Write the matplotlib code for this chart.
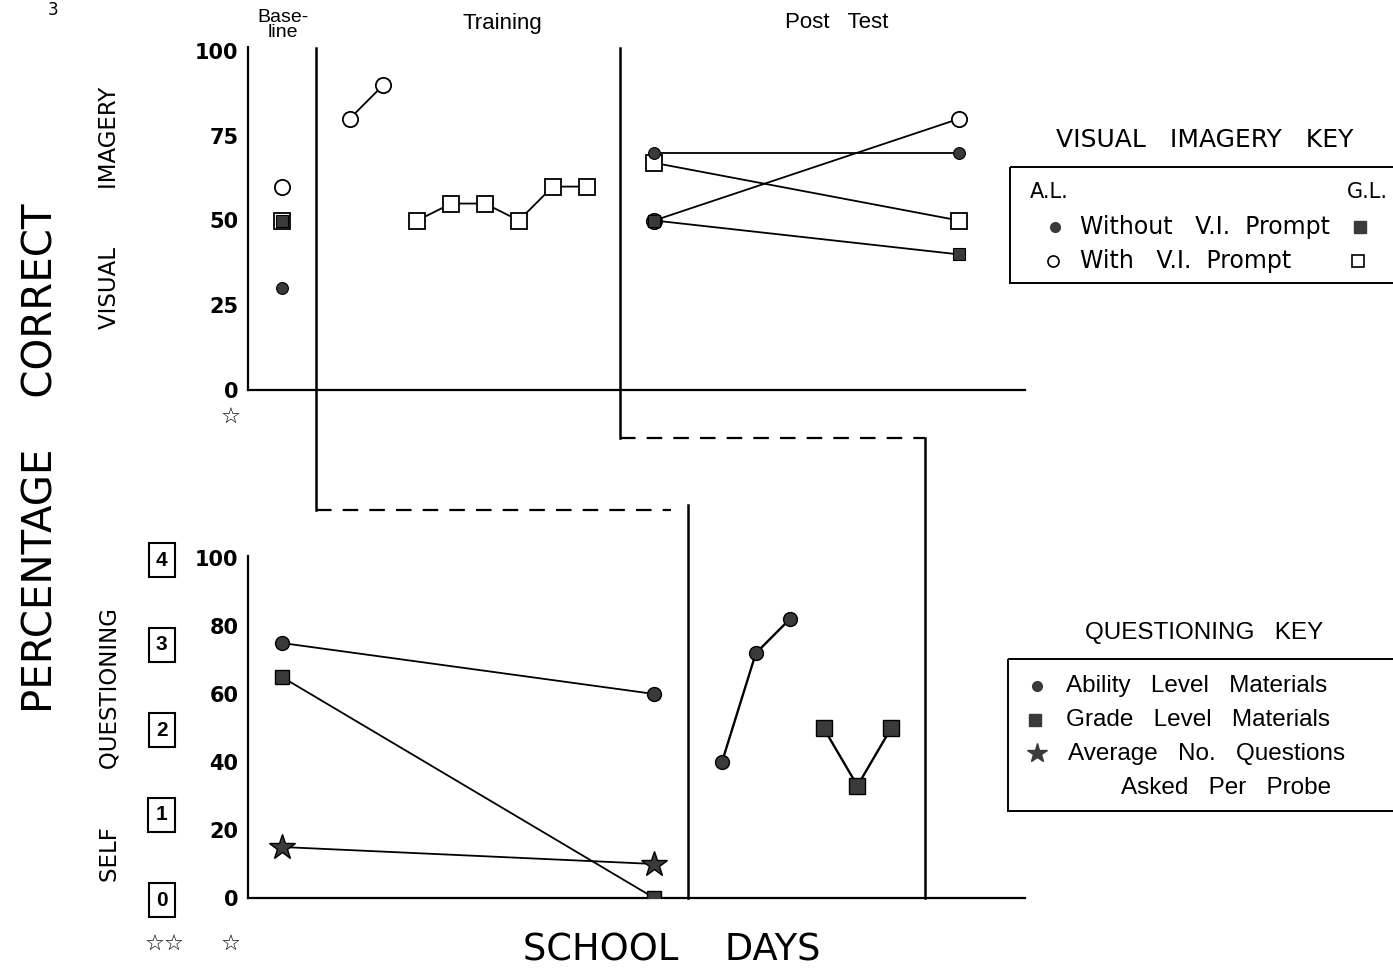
import numpy as np
import matplotlib
matplotlib.use("Agg")
import matplotlib.pyplot as plt
from matplotlib.patches import Rectangle

# ---- data: visual imagery (percent correct) ----
vi_base_days = [1]
vi_base_al_without = [30]
vi_base_al_with = [60]
vi_base_gl_without = [50]
vi_base_gl_with = [50]

vi_train_al_days = [3, 4]
vi_train_al_with = [80, 90]
vi_train_gl_days = [5, 6, 7, 8, 9, 10]
vi_train_gl_with = [50, 55, 55, 50, 60, 60]

vi_post_days = [12, 21]
vi_post_al_without = [70, 70]
vi_post_al_with = [50, 80]
vi_post_gl_without = [50, 40]
vi_post_gl_with = [67, 50]

# ---- data: self questioning ----
sq_base_days = [1, 12]
sq_base_al = [75, 60]
sq_base_gl = [65, 0]
sq_base_questions = [0.6, 0.4]   # average no. of questions per probe

sq_train_al_days = [14, 15, 16]
sq_train_al = [40, 72, 82]
sq_train_gl_days = [17, 18, 19]
sq_train_gl = [50, 33, 50]

vi_phase_lines = [2, 11]
sq_phase_lines = [13, 20]
pct_ticks = [0, 25, 50, 75, 100]
sq_ticks = [0, 20, 40, 60, 80, 100]
q_ticks = [0, 1, 2, 3, 4]

narrow = ['Liberation Sans Narrow', 'Liberation Sans', 'DejaVu Sans']
dark = '#3a3a3a'
W, H = 1393, 973

fig = plt.figure(figsize=(W / 100, H / 100), dpi=100)

ax_top = fig.add_axes([248 / W, 1 - 390 / H, 777 / W, 343 / H])
ax_bot = fig.add_axes([248 / W, 1 - 898 / H, 777 / W, 342 / H])
XMAX = 22.95
ax_top.set_xlim(0, XMAX)
ax_bot.set_xlim(0, XMAX)
ax_top.set_ylim(0, 100 * 343 / 339)
ax_bot.set_ylim(0, 100 * 342 / 340)

for ax in (ax_top, ax_bot):
    ax.patch.set_visible(False)
    for s in ('top', 'right'):
        ax.spines[s].set_visible(False)
    for s in ('left', 'bottom'):
        ax.spines[s].set_linewidth(1.6)
    ax.set_xticks([])
    ax.tick_params(axis='y', length=0, pad=7)

ax_top.set_yticks(pct_ticks)
ax_top.set_yticklabels([str(t) for t in pct_ticks], fontsize=15, fontweight='bold')
ax_bot.set_yticks(sq_ticks)
ax_bot.set_yticklabels([str(t) for t in sq_ticks], fontsize=15, fontweight='bold')

lw = 1.3
open_kw = dict(mfc='white', mec='black', mew=1.3, ms=11, color='black', lw=lw, zorder=3)
fill_kw = dict(mfc=dark, mec='black', mew=0.8, ms=8.5, color='black', lw=lw, zorder=4)

# top panel
ax_top.plot(vi_base_days, vi_base_al_with, 'o', **open_kw)
ax_top.plot(vi_base_days, vi_base_gl_with, 's', **open_kw)
ax_top.plot(vi_base_days, vi_base_al_without, 'o', **fill_kw)
ax_top.plot(vi_base_days, vi_base_gl_without, 's', **fill_kw)
ax_top.plot(vi_train_al_days, vi_train_al_with, '-o', **open_kw)
ax_top.plot(vi_train_gl_days, vi_train_gl_with, '-s', **open_kw)
ax_top.plot(vi_post_days, vi_post_al_with, '-o', **open_kw)
ax_top.plot(vi_post_days, vi_post_gl_with, '-s', **open_kw)
ax_top.plot(vi_post_days, vi_post_al_without, '-o', **fill_kw)
ax_top.plot(vi_post_days, vi_post_gl_without, '-s', **fill_kw)

# bottom panel
ax_bot.plot(sq_base_days, sq_base_al, '-o', color='black', lw=lw, mfc=dark, mec='black', ms=10, zorder=4)
ax_bot.plot(sq_base_days, sq_base_gl, '-s', color='black', lw=lw, mfc=dark, mec='black', ms=10, zorder=4)
ax_bot.plot(sq_train_al_days, sq_train_al, '-o', color='black', lw=1.7, mfc=dark, mec='black', ms=10, zorder=4)
ax_bot.plot(sq_train_gl_days, sq_train_gl, '-s', color='black', lw=1.7, mfc=dark, mec='black', ms=11, zorder=4)

ax_q = ax_bot.twinx()
ax_q.set_ylim(0, 4 * 342 / 340)
ax_q.plot(sq_base_days, sq_base_questions, '-*', color='black', lw=lw, mfc=dark, mec='black', ms=19, zorder=4)
for s in ax_q.spines.values():
    s.set_visible(False)
ax_q.yaxis.set_ticks_position('left')
ax_q.set_yticks(q_ticks)
ax_q.set_yticklabels([str(t) for t in q_ticks], fontsize=15, fontweight='bold', family=narrow)
ax_q.tick_params(axis='y', length=0, pad=58)
for lbl in ax_q.get_yticklabels():
    lbl.set_bbox(dict(boxstyle='square,pad=0.35', fc='white', ec='black', lw=1.5))

# phase change lines (multiple baseline staircase)
y_top_low1 = -35.4   # top-panel units, level of first dashed connector
y_top_low2 = -14.2
ax_top.plot([vi_phase_lines[0]] * 2, [101, y_top_low1], color='black', lw=1.8, clip_on=False)
ax_top.plot([vi_phase_lines[1]] * 2, [101, y_top_low2], color='black', lw=1.8, clip_on=False)
ax_top.plot([vi_phase_lines[0], sq_phase_lines[0] - 0.5], [y_top_low1] * 2, color='black', lw=1.6,
            ls=(0, (7, 5)), clip_on=False)
ax_top.plot([vi_phase_lines[1], sq_phase_lines[1]], [y_top_low2] * 2, color='black', lw=1.6,
            ls=(0, (7, 5)), clip_on=False)
ax_bot.plot([sq_phase_lines[0]] * 2, [0, 115.6], color='black', lw=1.8, clip_on=False)
ax_bot.plot([sq_phase_lines[1]] * 2, [0, 135.3], color='black', lw=1.8, clip_on=False)

# overlay in pixel coordinates for labels and keys
ov = fig.add_axes([0, 0, 1, 1], zorder=10)
ov.set_xlim(0, W)
ov.set_ylim(H, 0)
ov.axis('off')

ov.text(53, 1, '3', fontsize=12, ha='center', va='top')
ov.text(283, 25, 'Base-\nline', fontsize=14, family=narrow, ha='center', va='center', linespacing=0.85)
ov.text(502, 23, 'Training', fontsize=16, family=narrow, ha='center', va='center')
ov.text(837, 23, 'Post   Test', fontsize=16, family=narrow, ha='center', va='center')

ov.text(42, 458, 'PERCENTAGE    CORRECT', fontsize=29, rotation=90, ha='center', va='center')
ov.text(110, 208, 'VISUAL        IMAGERY', fontsize=16.5, rotation=90, ha='center', va='center')
ov.text(110, 745, 'SELF        QUESTIONING', fontsize=16.5, rotation=90, ha='center', va='center')
ov.text(672, 950, 'SCHOOL    DAYS', fontsize=26.5, ha='center', va='center')

star_kw = dict(fontsize=16, fontweight='bold', ha='center', va='center')
ov.text(231, 418, '\u2606', **star_kw)
ov.text(231, 945, '\u2606', **star_kw)
ov.text(165, 945, '\u2606\u2606', **star_kw)

# visual imagery key
ov.text(1205, 140, 'VISUAL   IMAGERY   KEY', fontsize=18, ha='center', va='center')
ov.add_patch(Rectangle((1010, 167), 420, 116, fill=False, ec='black', lw=1.4, clip_on=False))
ov.text(1030, 192, 'A.L.', fontsize=15, ha='left', va='center')
ov.text(1388, 192, 'G.L.', fontsize=15, ha='right', va='center')
ov.plot([1055], [227], 'o', mfc=dark, mec=dark, ms=7)
ov.text(1080, 227, 'Without   V.I.  Prompt', fontsize=17, ha='left', va='center')
ov.plot([1360], [227], 's', mfc=dark, mec=dark, ms=8)
ov.plot([1053], [261], 'o', mfc='white', mec='black', mew=1.2, ms=8)
ov.text(1080, 261, 'With   V.I.  Prompt', fontsize=17, ha='left', va='center')
ov.plot([1358], [261], 's', mfc='white', mec='black', mew=1.2, ms=8)

# questioning key
ov.text(1204, 633, 'QUESTIONING   KEY', fontsize=17.5, family=narrow, ha='center', va='center')
ov.add_patch(Rectangle((1008, 659), 420, 152, fill=False, ec='black', lw=1.4, clip_on=False))
ov.plot([1037], [686], 'o', mfc=dark, mec=dark, ms=7)
ov.text(1066, 686, 'Ability   Level   Materials', fontsize=17.5, family=narrow, ha='left', va='center')
ov.plot([1035], [720], 's', mfc=dark, mec=dark, ms=8)
ov.text(1066, 720, 'Grade   Level   Materials', fontsize=17.5, family=narrow, ha='left', va='center')
ov.plot([1037], [753], '*', mfc=dark, mec=dark, ms=15)
ov.text(1068, 754, 'Average   No.   Questions', fontsize=17.5, family=narrow, ha='left', va='center')
ov.text(1121, 788, 'Asked   Per   Probe', fontsize=17.5, family=narrow, ha='left', va='center')

fig.savefig('out.png', dpi=100)
